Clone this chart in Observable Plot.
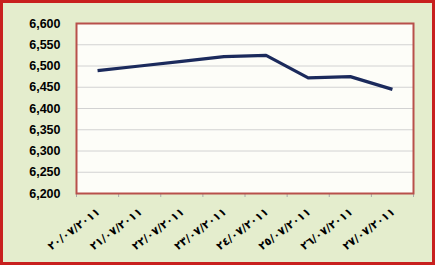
<!DOCTYPE html>
<html>
<head>
<meta charset="utf-8">
<script src="https://cdn.jsdelivr.net/npm/d3@7"></script>
<script src="https://cdn.jsdelivr.net/npm/@observablehq/plot@0.6"></script>
<style>
  html, body { margin: 0; padding: 0; background: #e4edcd; }
  #wrap { position: relative; width: 435px; height: 265px; overflow: hidden; }
  #border { position: absolute; left: 0; top: 0; width: 435px; height: 265px; box-sizing: border-box; border: 3px solid #c8201e; pointer-events: none; }
</style>
</head>
<body>
<div id="wrap"><div id="border"></div></div>
<script>
const dates = ["٢٠/٠٧/٢٠١١", "٢١/٠٧/٢٠١١", "٢٢/٠٧/٢٠١١", "٢٣/٠٧/٢٠١١", "٢٤/٠٧/٢٠١١", "٢٥/٠٧/٢٠١١", "٢٦/٠٧/٢٠١١", "٢٧/٠٧/٢٠١١"];
const values = [6489, 6500, 6511, 6522, 6525, 6472, 6475, 6445];
const yTicks = [6200, 6250, 6300, 6350, 6400, 6450, 6500, 6550, 6600];

const data = dates.map((d, i) => ({date: d, idx: i + 0.5, value: values[i]}));
const boundaries = d3.range(dates.length + 1);

const chart = Plot.plot({
  width: 435,
  height: 265,
  marginLeft: 76,
  marginRight: 22,
  marginTop: 23,
  marginBottom: 72,
  style: {background: "#e4edcd", fontFamily: "Liberation Sans, Arial, sans-serif", color: "#000"},
  x: {type: "linear", domain: [0, dates.length]},
  y: {domain: [6200, 6600]},
  marks: [
    Plot.frame({fill: "#fdfdf8", stroke: null}),
    Plot.gridY(yTicks, {stroke: "#d2d2d2", strokeOpacity: 1, strokeWidth: 1}),
    Plot.axisY(yTicks, {tickSize: 0, tickPadding: 16, tickFormat: d3.format(","), fontWeight: "bold", fontSize: 12.5, letterSpacing: "1px", fill: "#000", label: null}),
    Plot.axisX(boundaries, {tickSize: 4, tickFormat: () => "", stroke: "#a8a8a8", label: null}),
    Plot.text(data, {x: "idx", y: () => 6200, text: "date", rotate: -37, textAnchor: "end", dy: 17, dx: 1, fontSize: 11, letterSpacing: "0.6px", fontWeight: "bold", fill: "#000", fontFamily: "DejaVu Sans, sans-serif"}),
    Plot.line(data, {x: "idx", y: "value", stroke: "#1b2a5c", strokeWidth: 3.2, strokeLinejoin: "round", strokeLinecap: "butt"}),
    Plot.frame({stroke: "#b8504b", strokeWidth: 2})
  ]
});
document.getElementById("wrap").insertBefore(chart, document.getElementById("border"));
</script>
</body>
</html>
